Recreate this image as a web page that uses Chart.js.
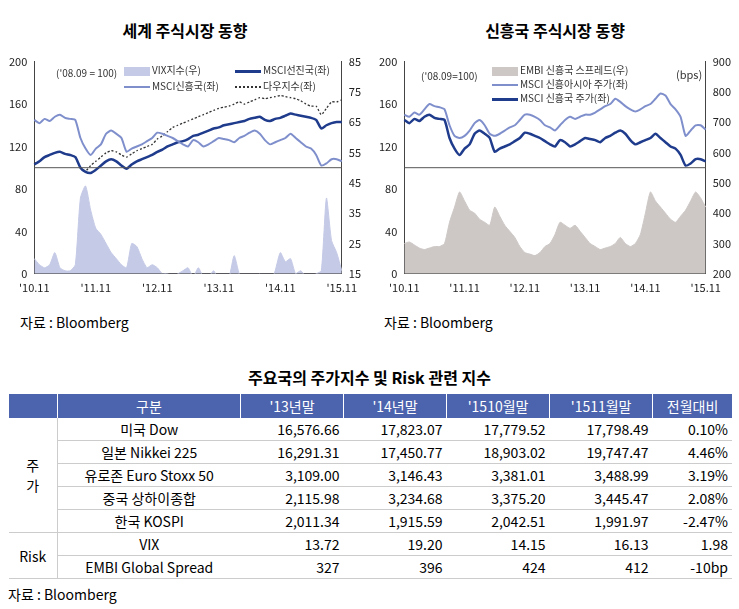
<!DOCTYPE html>
<html><head><meta charset="utf-8">
<script src="https://cdn.jsdelivr.net/npm/chart.js@4"></script>
<style>
body{margin:0;width:739px;height:609px;background:#fff;font-family:"Noto Sans CJK KR","Noto Sans",sans-serif;color:#000;position:relative;overflow:hidden}
.ttl{position:absolute;top:18px;font-size:16px;font-weight:bold;text-align:center;width:370px}
.box{position:absolute;top:52px;width:370px;height:245px}
.lg{position:absolute;font-size:10px;color:#333;white-space:nowrap}
.sw{display:inline-block;width:26px;vertical-align:middle;margin-right:2px}
.src{position:absolute;top:312px;font-size:14px}
table{position:absolute;left:8px;top:394px;width:724px;border-collapse:collapse;font-size:14px}
th{background:#4c63ad;color:#fff;font-weight:normal;height:22px;border-left:1px solid #fff}
td{height:22px;border-bottom:1px solid #ccc;padding:0 4px}
td.n{text-align:right}
td.c{text-align:center}
</style></head><body>
<div class="ttl" style="left:0">세계 주식시장 동향</div>
<div class="ttl" style="left:370px">신흥국 주식시장 동향</div>
<div class="box" style="left:0"><canvas id="c1"></canvas></div>
<div class="box" style="left:370px"><canvas id="c2"></canvas></div>
<div class="lg" style="left:56px;top:65px">('08.09 = 100)</div>
<div class="lg" style="left:124px;top:62px"><span class="sw" style="height:9px;background:#c5cae6"></span>VIX지수(우)</div>
<div class="lg" style="left:235px;top:62px"><span class="sw" style="border-top:3px solid #1f3b8c"></span>MSCI선진국(좌)</div>
<div class="lg" style="left:124px;top:78px"><span class="sw" style="border-top:2px solid #7f8fcc"></span>MSCI신흥국(좌)</div>
<div class="lg" style="left:235px;top:78px"><span class="sw" style="border-top:2px dotted #333"></span>다우지수(좌)</div>
<div class="lg" style="left:421px;top:68px">('08.09=100)</div>
<div class="lg" style="left:492px;top:62px"><span class="sw" style="height:9px;background:#cdc8c6"></span>EMBI 신흥국 스프레드(우)</div>
<div class="lg" style="left:492px;top:76px"><span class="sw" style="border-top:2px solid #7f8fcc"></span>MSCI 신흥아시아 주가(좌)</div>
<div class="lg" style="left:492px;top:90px"><span class="sw" style="border-top:3px solid #1f3b8c"></span>MSCI 신흥국 주가(좌)</div>
<div class="lg" style="left:676px;top:66px;font-size:11px">(bps)</div>
<div class="src" style="left:20px">자료 : Bloomberg</div>
<div class="src" style="left:384px">자료 : Bloomberg</div>
<div style="position:absolute;top:365px;width:739px;text-align:center;font-size:16px;font-weight:bold">주요국의 주가지수 및 Risk 관련 지수</div>
<table>
<tr><th style="width:46px"></th><th style="width:180px">구분</th><th>'13년말</th><th>'14년말</th><th>'1510월말</th><th>'1511월말</th><th>전월대비</th></tr>
<tr><td rowspan="5" class="c" style="border-right:1px solid #ccc">주<br>가</td><td class="c">미국 Dow</td><td class="n">16,576.66</td><td class="n">17,823.07</td><td class="n">17,779.52</td><td class="n">17,798.49</td><td class="n">0.10%</td></tr>
<tr><td class="c">일본 Nikkei 225</td><td class="n">16,291.31</td><td class="n">17,450.77</td><td class="n">18,903.02</td><td class="n">19,747.47</td><td class="n">4.46%</td></tr>
<tr><td class="c">유로존 Euro Stoxx 50</td><td class="n">3,109.00</td><td class="n">3,146.43</td><td class="n">3,381.01</td><td class="n">3,488.99</td><td class="n">3.19%</td></tr>
<tr><td class="c">중국 상하이종합</td><td class="n">2,115.98</td><td class="n">3,234.68</td><td class="n">3,375.20</td><td class="n">3,445.47</td><td class="n">2.08%</td></tr>
<tr><td class="c">한국 KOSPI</td><td class="n">2,011.34</td><td class="n">1,915.59</td><td class="n">2,042.51</td><td class="n">1,991.97</td><td class="n">-2.47%</td></tr>
<tr><td rowspan="2" class="c" style="border-right:1px solid #ccc;border-top:1px solid #555">Risk</td><td class="c" style="border-top:1px solid #555">VIX</td><td class="n" style="border-top:1px solid #555">13.72</td><td class="n" style="border-top:1px solid #555">19.20</td><td class="n" style="border-top:1px solid #555">14.15</td><td class="n" style="border-top:1px solid #555">16.13</td><td class="n" style="border-top:1px solid #555">1.98</td></tr>
<tr><td class="c">EMBI Global Spread</td><td class="n">327</td><td class="n">396</td><td class="n">424</td><td class="n">412</td><td class="n">-10bp</td></tr>
</table>
<div style="position:absolute;left:8px;top:584px;font-size:14px">자료 : Bloomberg</div>
<script>
// monthly, Nov 2010 .. Nov 2015
const months = [];
for (let y = 10; y <= 15; y++) for (let m = 1; m <= 12; m++) {
    if ((y === 10 && m < 11) || (y === 15 && m > 11)) continue;
    months.push("'" + y + '.' + String(m).padStart(2, '0'));
}
const yearTicks = ["'10.11", "'11.11", "'12.11", "'13.11", "'14.11", "'15.11"];

const msciEM = [145,142,146,144,148,150,147,146,145,128,118,112,118,122,132,135,132,128,115,118,
                120,122,125,128,133,132,130,128,125,122,120,126,124,120,122,125,128,127,126,124,
                128,130,133,135,132,126,122,124,126,128,132,128,124,120,118,112,102,104,108,108,106];
const msciDev = [103,106,110,112,114,115,113,112,110,100,96,95,98,102,106,108,106,102,99,103,
                 106,108,110,112,115,117,120,122,124,125,127,130,131,133,135,137,138,140,141,142,
                 143,144,146,147,148,145,144,146,147,149,151,150,149,148,147,145,137,140,142,143,143];
const dow = [104,106,110,112,114,115,113,112,110,100,97,102,106,110,114,116,115,112,110,113,
             116,118,120,122,127,130,134,138,140,142,144,146,148,150,152,154,156,157,158,160,
             162,160,162,164,166,165,166,167,168,167,166,165,163,160,158,158,150,156,162,162,164];
const vix = [20,18,17,18,22,17,16,16,18,40,44,36,30,28,25,22,20,18,17,25,
             24,20,17,18,17,15,15,14,15,16,17,14,17,14,14,16,13,14,14,21,
             15,13,14,13,15,12,12,16,22,19,20,15,16,14,14,15,16,40,26,22,16];
const emAsia = [150,148,152,150,155,160,158,157,155,140,130,128,130,135,142,145,140,132,130,132,
                135,138,140,145,150,150,148,145,140,138,135,140,145,148,146,148,150,150,152,155,
                158,160,165,162,158,155,153,155,158,160,165,170,168,160,155,148,130,135,140,140,136];
const embi = [300,305,295,285,280,285,290,290,300,370,420,470,440,410,400,380,370,360,420,390,
              360,340,320,290,270,265,260,270,290,300,330,370,360,350,360,340,320,300,290,280,
              285,290,300,320,300,290,300,330,400,470,440,420,400,380,370,390,410,440,470,450,420];

const baseLine = {
    id: 'baseLine',
    afterDatasetsDraw(chart) {
        const { ctx, chartArea, scales } = chart;
        const y = scales.y.getPixelForValue(100);
        ctx.save();
        ctx.strokeStyle = '#555';
        ctx.lineWidth = 1;
        ctx.beginPath();
        ctx.moveTo(chartArea.left, y);
        ctx.lineTo(chartArea.right, y);
        ctx.stroke();
        ctx.restore();
    }
};

function xAxis() {
    return {
        grid: { display: false, drawTicks: true, tickLength: 4 },
        border: { color: '#444' },
        ticks: {
            autoSkip: false, maxRotation: 0, color: '#222', font: { size: 11 },
            callback: function (v) { const l = this.getLabelForValue(v); return yearTicks.includes(l) ? l : ''; }
        }
    };
}
function yAxis(pos, min, max, step) {
    return {
        position: pos, min: min, max: max,
        grid: { display: false, tickLength: 4 },
        border: { color: '#444' },
        ticks: { stepSize: step, color: '#222', font: { size: 11 } }
    };
}
const line = (data, color, width, dash) => ({
    type: 'line', data: data, borderColor: color, borderWidth: width, borderDash: dash || [],
    pointRadius: 0, tension: 0.2, yAxisID: 'y', order: 1
});
const area = (data, color, axis) => ({
    type: 'line', data: data, borderColor: color, backgroundColor: color, borderWidth: 1,
    fill: 'start', pointRadius: 0, tension: 0.2, yAxisID: axis, order: 3
});
const common = {
    responsive: true, maintainAspectRatio: false, animation: false,
    layout: { padding: { left: 6, right: 6, top: 8, bottom: 0 } },
    plugins: { legend: { display: false }, tooltip: { enabled: false } }
};

Chart.defaults.font.family = '"Noto Sans CJK KR", "Noto Sans", sans-serif';

new Chart(document.getElementById('c1'), {
    data: {
        labels: months,
        datasets: [
            area(vix, '#c5cae6', 'y2'),
            line(msciEM, '#7f8fcc', 2),
            line(msciDev, '#1f3b8c', 2.5),
            line(dow, '#333', 1.3, [2, 2])
        ]
    },
    options: Object.assign({}, common, {
        scales: { x: xAxis(), y: yAxis('left', 0, 200, 40), y2: yAxis('right', 15, 85, 10) }
    }),
    plugins: [baseLine]
});

new Chart(document.getElementById('c2'), {
    data: {
        labels: months,
        datasets: [
            area(embi, '#cdc8c6', 'y2'),
            line(emAsia, '#7f8fcc', 2),
            line(msciEM, '#1f3b8c', 2.5)
        ]
    },
    options: Object.assign({}, common, {
        scales: { x: xAxis(), y: yAxis('left', 0, 200, 40), y2: yAxis('right', 200, 900, 100) }
    }),
    plugins: [baseLine]
});
</script>
</body></html>
